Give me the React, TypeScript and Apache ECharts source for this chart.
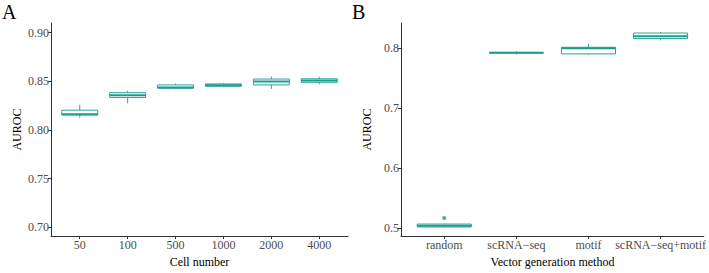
import React, { useEffect, useRef } from "react";
import * as echarts from "echarts";

const catsA = ["50", "100", "500", "1000", "2000", "4000"];
const minA = [0.8127, 0.8274, 0.842, 0.844, 0.8424, 0.847];
const q1A = [0.8155, 0.8334, 0.843, 0.845, 0.8464, 0.849];
const medA = [0.8163, 0.8357, 0.8437, 0.846, 0.85, 0.851];
const q3A = [0.8204, 0.8384, 0.8464, 0.8474, 0.8524, 0.8527];
const maxA = [0.826, 0.8404, 0.8477, 0.8484, 0.855, 0.8547];
const ticksA = [0.7, 0.75, 0.8, 0.85, 0.9];

const catsB = ["random", "scRNA\u2212seq", "motif", "scRNA\u2212seq+motif"];
const minB = [0.501, 0.789, 0.788, 0.8123];
const q1B = [0.5016, 0.7915, 0.79, 0.8156];
const medB = [0.5035, 0.792, 0.7995, 0.8195];
const q3B = [0.5065, 0.7925, 0.801, 0.8248];
const maxB = [0.507, 0.7945, 0.807, 0.8264];
const outlierCatB = [1];
const outlierValB = [0.5167];
const ticksB = [0.5, 0.6, 0.7, 0.8];

const FONT = "Liberation Serif";
const TEAL = "#2ba59c";

function boxData(mins: number[], q1: number[], med: number[], q3: number[], maxs: number[]) {
  return mins.map((m, i) => [i + 1, m, q1[i], med[i], q3[i], maxs[i]]);
}

function renderBox(params: any, api: any) {
  const x = api.value(0);
  const w = api.size([0.75, 0])[0];
  const pMin = api.coord([x, api.value(1)]);
  const pQ1 = api.coord([x, api.value(2)]);
  const pMed = api.coord([x, api.value(3)]);
  const pQ3 = api.coord([x, api.value(4)]);
  const pMax = api.coord([x, api.value(5)]);
  const cx = pMed[0];
  const lineStyle = { stroke: TEAL, lineWidth: 1, fill: null };
  return {
    type: "group",
    children: [
      { type: "line", shape: { x1: cx, y1: pMax[1], x2: cx, y2: pQ3[1] }, style: lineStyle },
      { type: "line", shape: { x1: cx, y1: pQ1[1], x2: cx, y2: pMin[1] }, style: lineStyle },
      {
        type: "rect",
        shape: { x: cx - w / 2, y: pQ3[1], width: w, height: pQ1[1] - pQ3[1] },
        style: { stroke: TEAL, lineWidth: 1, fill: "#ffffff" },
      },
      {
        type: "line",
        shape: { x1: cx - w / 2, y1: pMed[1], x2: cx + w / 2, y2: pMed[1] },
        style: { stroke: "#1f9a90", lineWidth: 2 },
      },
    ],
  };
}

function xAxisFor(gridIndex: number, cats: string[], name: string) {
  const vals = cats.map((_, i) => i + 1);
  return {
    type: "value",
    gridIndex,
    min: 0.4,
    max: cats.length + 0.6,
    name,
    nameLocation: "middle",
    nameGap: 18,
    nameTextStyle: { fontFamily: FONT, fontSize: 12, color: "#000" },
    axisLine: { show: true, onZero: false, lineStyle: { color: "#333", width: 1 } },
    axisTick: { show: true, length: 3, customValues: vals, lineStyle: { color: "#333" } },
    axisLabel: {
      customValues: vals,
      formatter: (v: number) => cats[Math.round(v) - 1] ?? "",
      fontFamily: FONT,
      fontSize: 12,
      color: "#4d4d4d",
      margin: 3,
    },
    splitLine: { show: false },
  };
}

function yAxisFor(gridIndex: number, min: number, max: number, ticks: number[], digits: number) {
  return {
    type: "value",
    gridIndex,
    min,
    max,
    name: "AUROC",
    nameLocation: "middle",
    nameGap: 28,
    nameTextStyle: { fontFamily: FONT, fontSize: 12, color: "#000" },
    axisLine: { show: true, onZero: false, lineStyle: { color: "#333", width: 1 } },
    axisTick: { show: true, length: 3, customValues: ticks, lineStyle: { color: "#333" } },
    axisLabel: {
      customValues: ticks,
      formatter: (v: number) => v.toFixed(digits),
      fontFamily: FONT,
      fontSize: 12,
      color: "#4d4d4d",
      margin: 2,
    },
    splitLine: { show: false },
  };
}

export default function App() {
  const ref = useRef<HTMLDivElement>(null);
  useEffect(() => {
    if (!ref.current) return;
    const chart = echarts.init(ref.current, undefined, { renderer: "svg" });
    chart.setOption({
      animation: false,
      backgroundColor: "#ffffff",
      textStyle: { fontFamily: FONT },
      grid: [
        { left: 51, top: 23, width: 297, bottom: 31 },
        { left: 401, top: 23, width: 307, bottom: 31 },
      ],
      xAxis: [xAxisFor(0, catsA, "Cell number"), xAxisFor(1, catsB, "Vector generation method")],
      yAxis: [yAxisFor(0, 0.691, 0.91, ticksA, 2), yAxisFor(1, 0.4864, 0.8415, ticksB, 1)],
      graphic: [
        { type: "text", left: 2, top: 2, style: { text: "A", fontFamily: FONT, fontSize: 20, fill: "#000" } },
        { type: "text", left: 352, top: 2, style: { text: "B", fontFamily: FONT, fontSize: 20, fill: "#000" } },
      ],
      series: [
        {
          type: "custom",
          xAxisIndex: 0,
          yAxisIndex: 0,
          renderItem: renderBox,
          data: boxData(minA, q1A, medA, q3A, maxA),
          encode: { x: 0, y: [1, 2, 3, 4, 5] },
        },
        {
          type: "custom",
          xAxisIndex: 1,
          yAxisIndex: 1,
          renderItem: renderBox,
          data: boxData(minB, q1B, medB, q3B, maxB),
          encode: { x: 0, y: [1, 2, 3, 4, 5] },
        },
        {
          type: "scatter",
          xAxisIndex: 1,
          yAxisIndex: 1,
          symbolSize: 4,
          itemStyle: { color: "#1f9a90" },
          data: outlierCatB.map((c, i) => [c, outlierValB[i]]),
        },
      ],
    });
    return () => chart.dispose();
  }, []);
  return (
    <div
      ref={ref}
      style={{ position: "fixed", left: 0, top: 0, width: 709, height: 273 }}
    />
  );
}
